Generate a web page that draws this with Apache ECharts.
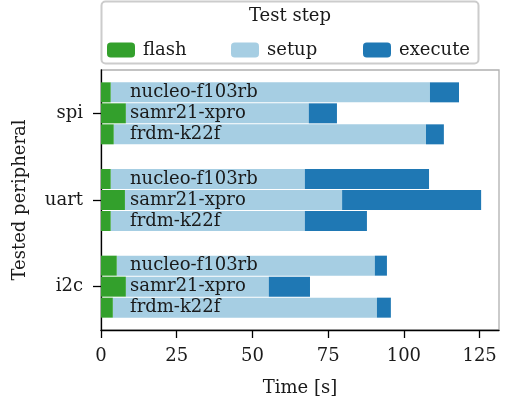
<!DOCTYPE html>
<html>
<head>
<meta charset="utf-8">
<script src="https://cdn.jsdelivr.net/npm/echarts@6/dist/echarts.min.js"></script>
<style>
html,body{margin:0;padding:0;background:#fff;}
#chart{width:506px;height:403px;}
</style>
</head>
<body>
<div id="chart"></div>
<script>
// Data (top to bottom)
const peripherals = ['spi', 'uart', 'i2c'];
const boards = ['nucleo-f103rb', 'samr21-xpro', 'frdm-k22f'];
const steps = ['flash', 'setup', 'execute'];
const xTicks = [0, 25, 50, 75, 100, 125];
// durations [spi, uart, i2c] in seconds
const flashNucleo = [3.2, 3.2, 5.2];
const flashSamr21 = [8.2, 7.9, 8.2];
const flashFrdm = [4.2, 3.2, 3.9];
const setupNucleo = [105.4, 64.1, 85.2];
const setupSamr21 = [60.4, 71.7, 47.2];
const setupFrdm = [103.1, 64.1, 87.2];
const executeNucleo = [9.6, 41.0, 4.0];
const executeSamr21 = [9.3, 45.9, 13.6];
const executeFrdm = [5.9, 20.5, 4.6];

const boardData = [
  [flashNucleo, setupNucleo, executeNucleo],
  [flashSamr21, setupSamr21, executeSamr21],
  [flashFrdm, setupFrdm, executeFrdm]
];
const colors = {flash: '#33a02c', setup: '#a6cee3', execute: '#1f78b4'};
const FONT = 'DejaVu Serif';
const FS = 18;
const TXT = '#1a1a1a';

const series = [];
boards.forEach((b, bi) => {
  steps.forEach((s, si) => {
    const ser = {
      type: 'bar',
      name: s,
      stack: b,
      data: boardData[bi][si],
      barWidth: 20,
      barGap: '5%',
      itemStyle: {color: colors[s]},
      z: si === 0 ? 3 : 2,
      emphasis: {disabled: true},
      animation: false
    };
    if (si === 0) {
      ser.label = {
        show: true,
        position: [29, '50%'],
        verticalAlign: 'middle',
        align: 'left',
        formatter: b,
        fontFamily: FONT,
        fontSize: FS,
        color: TXT
      };
    }
    series.push(ser);
  });
});

const legendX = [107, 231, 363];
const legends = steps.map((s, i) => ({
  data: [s],
  left: legendX[i],
  top: 41,
  itemWidth: 28,
  itemHeight: 15,
  itemGap: 0,
  padding: 0,
  selectedMode: false,
  textStyle: {fontFamily: FONT, fontSize: FS, color: TXT, padding: [0, 0, 0, 3]}
}));

const chart = echarts.init(document.getElementById('chart'), null, {renderer: 'canvas'});
chart.setOption({
  animation: false,
  color: [colors.flash, colors.setup, colors.execute],
  title: {
    text: 'Test step',
    left: 290,
    textAlign: 'center',
    top: 7,
    padding: 0,
    textStyle: {fontFamily: FONT, fontSize: FS, fontWeight: 'normal', color: TXT}
  },
  legend: legends,
  graphic: [{
    type: 'rect',
    shape: {x: 101.5, y: 1.5, width: 377, height: 62, r: 4},
    style: {fill: 'none', stroke: '#cccccc', lineWidth: 2},
    z: 0
  }],
  grid: {left: 101, right: 7, top: 70, bottom: 73, show: true, borderColor: '#b0b0b0', borderWidth: 1.3},
  xAxis: {
    type: 'value',
    min: 0,
    max: 131.4,
    interval: 25,
    name: 'Time [s]',
    nameLocation: 'middle',
    nameGap: 49,
    nameTextStyle: {fontFamily: FONT, fontSize: FS, color: TXT},
    axisLine: {show: true, lineStyle: {color: '#000', width: 1.3}},
    axisTick: {show: true, length: 8, lineStyle: {color: '#000', width: 1.3}, customValues: xTicks},
    axisLabel: {fontFamily: FONT, fontSize: FS, color: TXT, margin: 17, customValues: xTicks},
    splitLine: {show: false}
  },
  yAxis: {
    type: 'category',
    data: peripherals,
    inverse: true,
    name: 'Tested peripheral',
    nameLocation: 'middle',
    nameGap: 72,
    nameTextStyle: {fontFamily: FONT, fontSize: FS, color: TXT},
    axisLine: {show: true, lineStyle: {color: '#000', width: 1.3}},
    axisTick: {show: true, length: 8, alignWithLabel: true, lineStyle: {color: '#000', width: 1.3}},
    axisLabel: {fontFamily: FONT, fontSize: FS, color: TXT, margin: 18},
    splitLine: {show: false}
  },
  series: series
});
</script>
</body>
</html>
